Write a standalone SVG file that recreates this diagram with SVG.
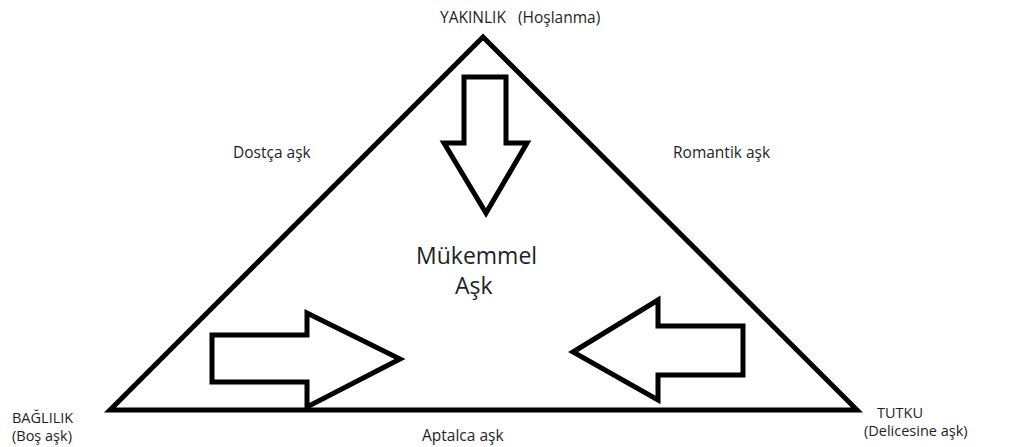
<svg xmlns="http://www.w3.org/2000/svg" width="1019" height="447" viewBox="0 0 1019 447">
<style>
.s{fill:#ffffff;stroke:#000;stroke-width:5;stroke-linejoin:miter}
.t{font-family:"Open Sans","Liberation Sans",sans-serif;font-size:15.5px;fill:#1e1e28}
.n{font-size:14.5px}
.b{font-family:"Open Sans","Liberation Sans",sans-serif;font-size:23px;fill:#1e1e28}
</style>
<rect width="1019" height="447" fill="#ffffff"/>
<g id="triangle"><polygon class="s" points="483,37 857,410 110,410"/></g>
<g id="connectors">
<polygon id="arrow-down" class="s" points="464,77 506,77 506,143 527,143 486,213 444,143 464,143"/>
<polygon id="arrow-right" class="s" points="212,335 307,335 307,313 400,359 307,407 307,382 212,382"/>
<polygon id="arrow-left" class="s" points="743,326 658,326 658,300 573,352 658,400 658,375 743,375"/>
</g>
<g id="top"><text class="t" x="440" y="23">YAKINLIK<tspan x="518">(Hoşlanma)</tspan></text></g>
<g id="left"><text class="t n" x="12" y="423">BAĞLILIK</text><text class="t n" x="12" y="441">(Boş aşk)</text></g>
<g id="right"><text class="t n" x="877" y="418">TUTKU</text><text class="t n" x="864" y="436">(Delicesine aşk)</text></g>
<g id="center"><text class="b" x="416" y="264">Mükemmel</text><text class="b" x="455" y="294">Aşk</text></g>
<g id="dostca"><text class="t" x="233" y="158">Dostça aşk</text></g>
<g id="romantik"><text class="t" x="673" y="158">Romantik aşk</text></g>
<g id="aptalca"><text class="t" x="422" y="441">Aptalca aşk</text></g>
</svg>
